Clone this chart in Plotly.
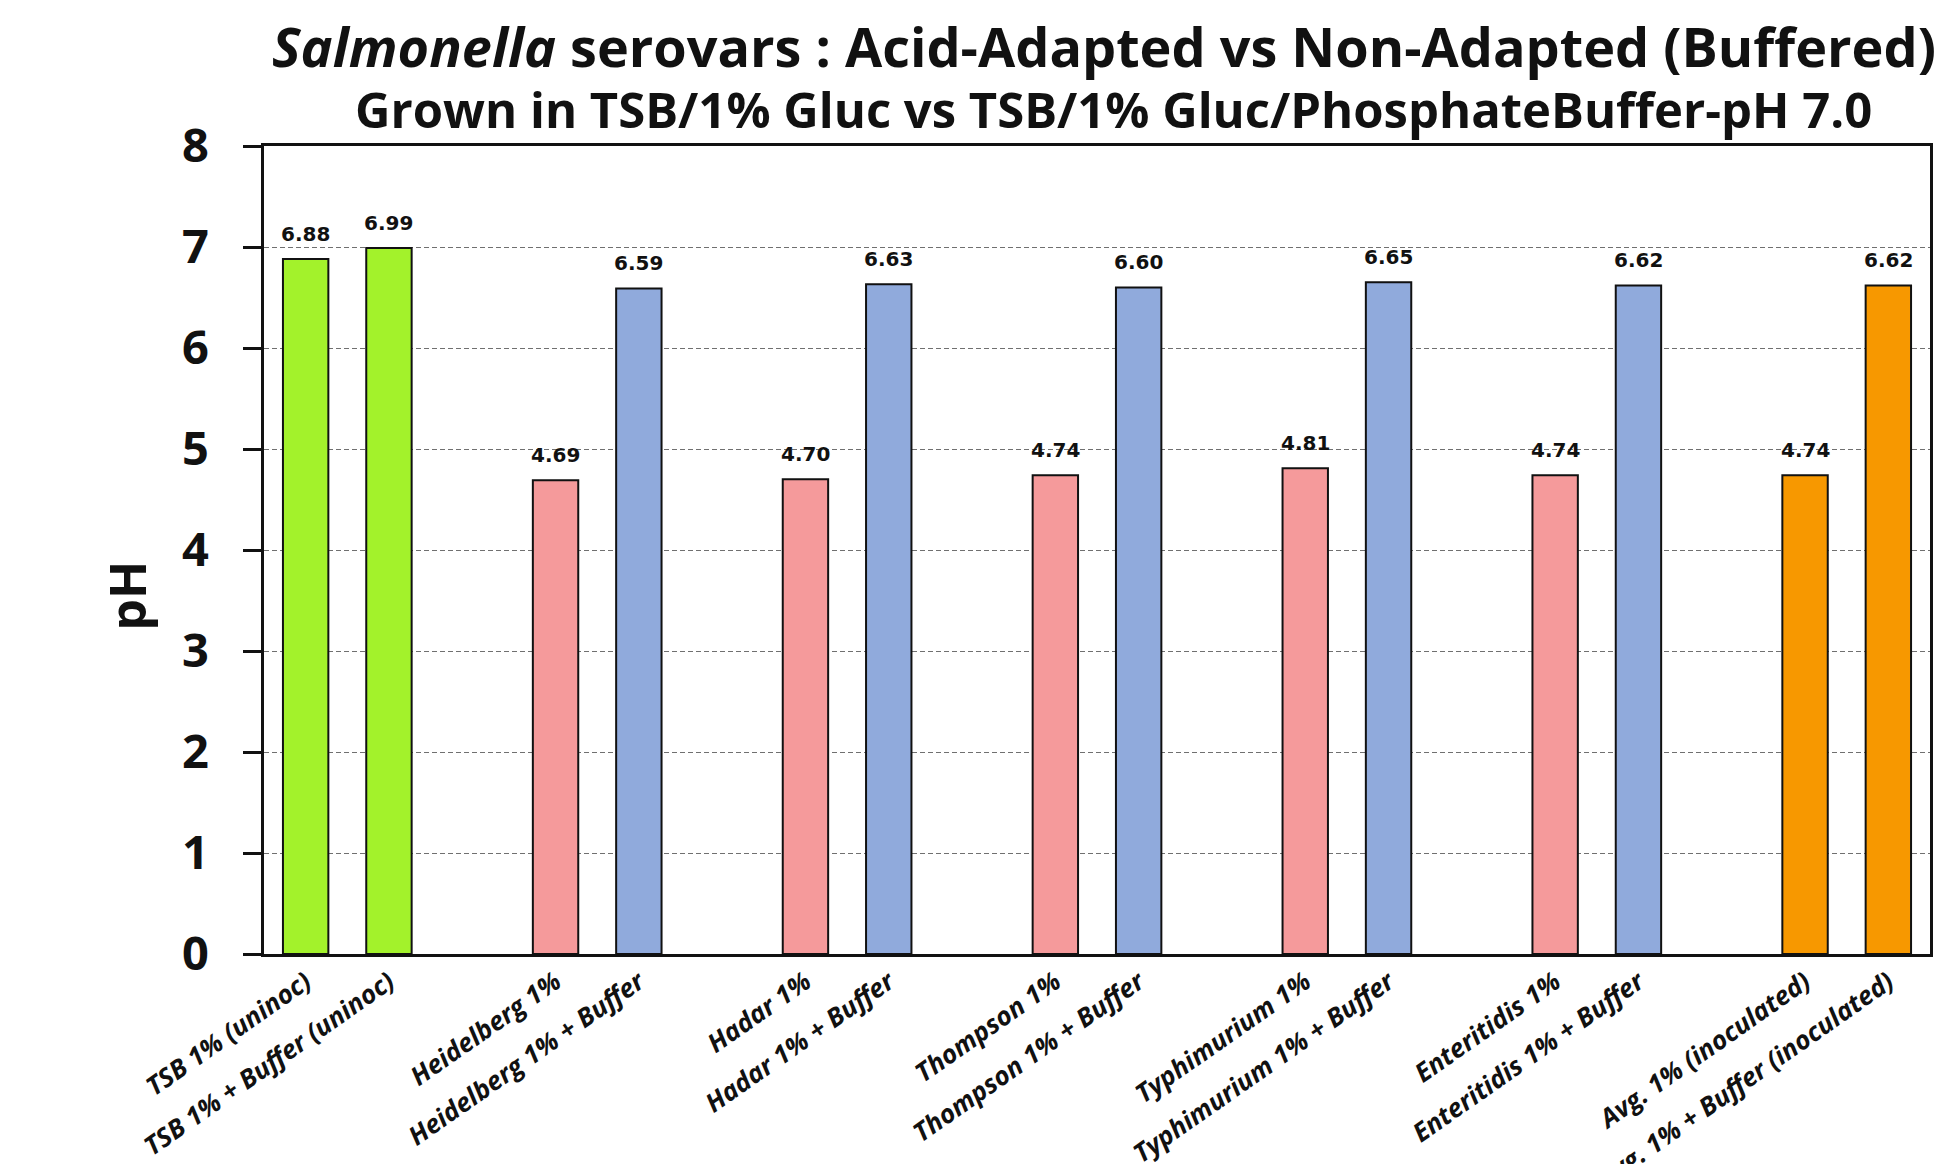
import plotly.graph_objects as go

# pH after growth, by serovar: glucose medium vs glucose + phosphate buffer
groups = ["TSB", "Heidelberg", "Hadar", "Thompson", "Typhimurium", "Enteritidis", "Avg."]
unbuffered_labels = ["TSB 1% (uninoc)", "Heidelberg 1%", "Hadar 1%", "Thompson 1%",
                     "Typhimurium 1%", "Enteritidis 1%", "Avg. 1% (inoculated)"]
buffered_labels = ["TSB 1% + Buffer (uninoc)", "Heidelberg 1% + Buffer", "Hadar 1% + Buffer",
                   "Thompson 1% + Buffer", "Typhimurium 1% + Buffer", "Enteritidis 1% + Buffer",
                   "Avg. 1% + Buffer (inoculated)"]
unbuffered_ph = [6.88, 4.69, 4.70, 4.74, 4.81, 4.74, 4.74]
buffered_ph = [6.99, 6.59, 6.63, 6.60, 6.65, 6.62, 6.62]
y_ticks = [0, 1, 2, 3, 4, 5, 6, 7, 8]

GREEN, PINK, BLUE, ORANGE = "#A3F22B", "#F59A9B", "#90AADC", "#F79800"
unbuffered_colors = [GREEN] + [PINK] * 5 + [ORANGE]
buffered_colors = [GREEN] + [BLUE] * 5 + [ORANGE]

# each pair takes two slots, with one empty slot between pairs
x_unbuf = [3 * i for i in range(len(groups))]
x_buf = [3 * i + 1 for i in range(len(groups))]

fig = go.Figure()
bar_line = dict(color="#111111", width=2)
fig.add_trace(go.Bar(x=x_unbuf, y=unbuffered_ph, width=0.545,
                     marker=dict(color=unbuffered_colors, line=bar_line),
                     showlegend=False, hoverinfo="skip"))
fig.add_trace(go.Bar(x=x_buf, y=buffered_ph, width=0.545,
                     marker=dict(color=buffered_colors, line=bar_line),
                     showlegend=False, hoverinfo="skip"))

# value labels above the bars
annotations = []
for xs, ys in ((x_unbuf, unbuffered_ph), (x_buf, buffered_ph)):
    for xv, yv in zip(xs, ys):
        annotations.append(dict(x=xv, y=yv, text=f"{yv:.2f}", showarrow=False,
                                yshift=25, xref="x", yref="y",
                                font=dict(family="DejaVu Sans", size=20, color="#111111",
                                          weight="bold")))

tick_vals = []
tick_text = []
for i in range(len(groups)):
    tick_vals += [x_unbuf[i], x_buf[i]]
    tick_text += [f"<b><i>{unbuffered_labels[i]}</i></b>", f"<b><i>{buffered_labels[i]}</i></b>"]

annotations.append(dict(
    text="<b><i>Salmonella</i> serovars : Acid-Adapted vs Non-Adapted (Buffered)</b>",
    x=0.504, y=1.1238, xref="paper", yref="paper", showarrow=False,
    xanchor="center", yanchor="middle",
    font=dict(family="Open Sans", size=54, color="#111111")))
annotations.append(dict(
    text="<b>Grown in TSB/1% Gluc vs TSB/1% Gluc/PhosphateBuffer-pH 7.0</b>",
    x=0.510, y=1.0458, xref="paper", yref="paper", showarrow=False,
    xanchor="center", yanchor="middle",
    font=dict(family="Open Sans", size=49, color="#111111")))
annotations.append(dict(
    text="<b>pH</b>", x=-0.082, y=0.444, xref="paper", yref="paper", showarrow=False,
    textangle=-90, xanchor="center", yanchor="middle",
    font=dict(family="Open Sans", size=50, color="#111111")))

fig.update_layout(
    width=1944, height=1164,
    margin=dict(l=264, r=14, t=146, b=210, autoexpand=False),
    paper_bgcolor="white", plot_bgcolor="white",
    annotations=annotations,
    bargap=0.45,
)
fig.update_xaxes(
    range=[-0.5, 19.5], tickmode="array", tickvals=tick_vals, ticktext=tick_text,
    tickangle=-35, tickfont=dict(family="Open Sans", size=26, color="#111111"),
    showgrid=False, showline=True, linecolor="#111111", linewidth=2.5,
    mirror=True, ticks="", zeroline=False, automargin=False, ticklabelstandoff=0,
)
fig.update_yaxes(
    range=[0, 8], tickmode="array", tickvals=y_ticks,
    tickfont=dict(family="Open Sans", size=47, color="#111111", weight="bold"),
    showgrid=True, gridcolor="#707070", gridwidth=1.4, griddash="5px,3px",
    showline=True, linecolor="#111111", linewidth=2.5, mirror=True,
    ticks="outside", ticklen=18, tickwidth=2.5, tickcolor="#111111",
    ticklabelstandoff=25, zeroline=False, automargin=False,
)

fig.write_html("out.html")
